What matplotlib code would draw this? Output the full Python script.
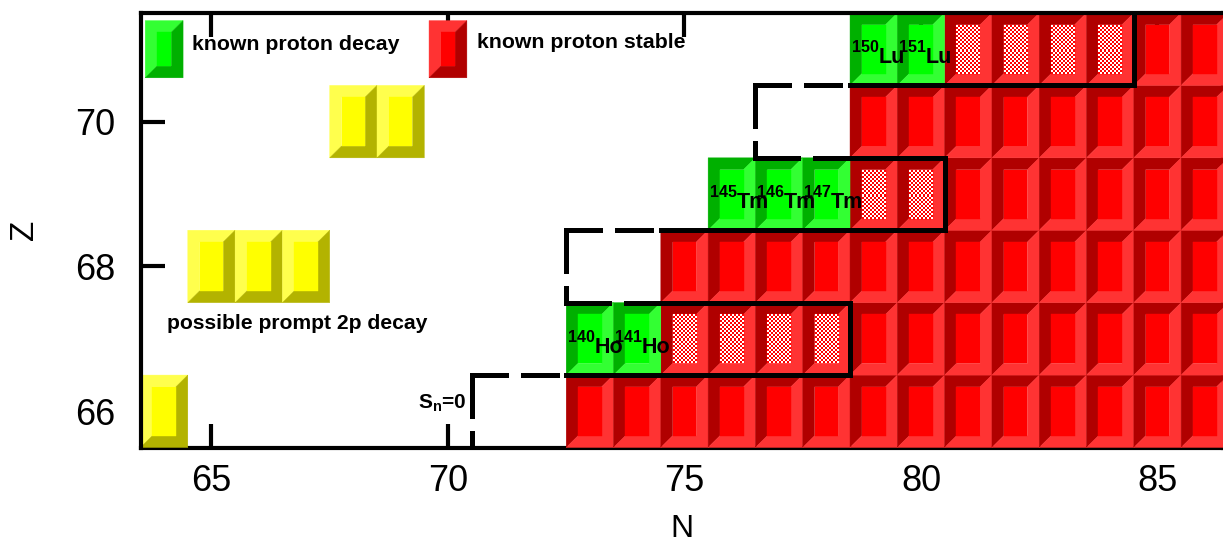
import numpy as np
import matplotlib
matplotlib.use('Agg')
import matplotlib.pyplot as plt
from matplotlib.patches import Polygon, Rectangle
from matplotlib.colors import ListedColormap

plt.rcParams['font.family'] = ['Liberation Sans', 'DejaVu Sans']
plt.rcParams['mathtext.fontset'] = 'custom'
plt.rcParams['mathtext.bf'] = 'Liberation Sans:bold'
plt.rcParams['mathtext.rm'] = 'Liberation Sans:bold'
plt.rcParams['mathtext.default'] = 'bf'
plt.rcParams['lines.scale_dashes'] = False

# ---------------- data ----------------
# known proton emitters (green)
decay_N = [73, 74, 76, 77, 78, 79, 80]
decay_Z = [67, 67, 69, 69, 69, 71, 71]
decay_A = [140, 141, 145, 146, 147, 150, 151]
decay_sym = ['Ho', 'Ho', 'Tm', 'Tm', 'Tm', 'Lu', 'Lu']

# known proton-stable nuclei (red): first N in each Z row, up to N_last
stable_Z = [66, 67, 68, 69, 70, 71]
stable_Nfirst = [73, 75, 75, 79, 79, 81]
stable_Nlast = 86

# stable cells with checkered face
hatched_Z = [67, 69, 71]
hatched_Nfirst = [75, 79, 81]
hatched_Nlast = [78, 80, 84]

# possible prompt 2p decay (yellow)
prompt2p_N = [64, 65, 66, 67, 68, 69]
prompt2p_Z = [66, 68, 68, 68, 70, 70]

# boundary lines (solid)
solid_N = [[72.5, 78.5, 78.5, 74.5], [74.5, 80.5, 80.5, 78.5], [78.5, 84.5, 84.5]]
solid_Z = [[66.5, 66.5, 67.5, 67.5], [68.5, 68.5, 69.5, 69.5], [70.5, 70.5, 71.5]]

# boundary lines (dashed), each segment start -> end
dash_N0 = [70.5, 70.5, 72.5, 72.5, 72.5, 76.5, 76.5, 76.5]
dash_Z0 = [66.5, 66.5, 68.5, 68.5, 67.5, 70.5, 70.5, 69.5]
dash_N1 = [70.5, 72.5, 72.5, 74.5, 74.5, 76.5, 78.5, 78.5]
dash_Z1 = [65.5, 66.5, 67.5, 68.5, 67.5, 69.5, 70.5, 69.5]

x_ticks = [65, 70, 75, 80, 85]
y_ticks = [66, 68, 70]

# ---------------- colours ----------------
RED = ('#ff0000', '#b00000', '#ff3333')
GREEN = ('#00ff00', '#00b000', '#33ff33')
YELLOW = ('#ffff00', '#b3b300', '#ffff4d')

BX, BY = 0.25, 0.162

fig = plt.figure(figsize=(12.23, 5.42), dpi=100)
ax = fig.add_axes([140.5 / 1223, 94.5 / 542, 1082.5 / 1223, 434.5 / 542])


def cell(x0, y0, w, h, cols, raised=False, hatch=False, z=2):
    face, dark, light = cols
    x1, y1 = x0 + w, y0 + h
    xi0, xi1, yi0, yi1 = x0 + BX, x1 - BX, y0 + BY, y1 - BY
    tl = [(x0, y0), (x0, y1), (x1, y1), (xi1, yi1), (xi0, yi1), (xi0, yi0)]
    br = [(x0, y0), (x1, y0), (x1, y1), (xi1, yi1), (xi1, yi0), (xi0, yi0)]
    c_tl, c_br = (light, dark) if raised else (dark, light)
    ax.add_patch(Polygon(tl, closed=True, facecolor=c_tl, edgecolor=c_tl, lw=0.3, zorder=z))
    ax.add_patch(Polygon(br, closed=True, facecolor=c_br, edgecolor=c_br, lw=0.3, zorder=z))
    ax.add_patch(Rectangle((xi0, yi0), xi1 - xi0, yi1 - yi0, facecolor=face,
                           edgecolor=face, lw=0.3, zorder=z + 0.1))
    if hatch:
        nx, ny = 12, 24
        chk = (np.add.outer(np.arange(ny), np.arange(nx)) % 2).astype(float)
        ax.imshow(chk, extent=(xi0, xi1, yi0, yi1), cmap=ListedColormap(['white', face]),
                  vmin=0, vmax=1, interpolation='nearest', aspect='auto', zorder=z + 0.2)


# red (stable) cells
hatched_set = set()
for z_, a, b in zip(hatched_Z, hatched_Nfirst, hatched_Nlast):
    for n in range(a, b + 1):
        hatched_set.add((n, z_))
for z_, nf in zip(stable_Z, stable_Nfirst):
    for n in range(nf, stable_Nlast + 1):
        cell(n - 0.5, z_ - 0.5, 1, 1, RED, hatch=(n, z_) in hatched_set)

# green (proton decay) cells
for n, z_, A, s in zip(decay_N, decay_Z, decay_A, decay_sym):
    cell(n - 0.5, z_ - 0.5, 1, 1, GREEN)
for n, z_, A, s in zip(decay_N, decay_Z, decay_A, decay_sym):
    ax.text(n + 0.1, z_ - 0.045, str(A), fontsize=11.5, fontweight='bold',
            ha='right', va='baseline', zorder=6)
    ax.text(n + 0.1, z_ - 0.19, s, fontsize=15.5, fontweight='bold',
            ha='left', va='baseline', zorder=6)

# yellow cells
for n, z_ in zip(prompt2p_N, prompt2p_Z):
    cell(n - 0.5, z_ - 0.5, 1, 1, YELLOW, raised=True)

# legend cells
LW_, LH_ = 0.80, 0.79
cell(64 - LW_ / 2, 71 - LH_ / 2, LW_, LH_, GREEN, raised=True, z=3)
cell(70 - LW_ / 2, 71 - LH_ / 2, LW_, LH_, RED, raised=True, z=3)
ax.text(64.59, 70.99, 'known proton decay', fontsize=15.3, fontweight='bold', ha='left',
        va='baseline', zorder=6)
ax.text(70.61, 71.01, 'known proton stable', fontsize=15.3, fontweight='bold', ha='left',
        va='baseline', zorder=6)
ax.text(64.06, 67.13, 'possible prompt 2p decay', fontsize=15.2, fontweight='bold',
        ha='left', va='baseline', zorder=6)
ax.text(69.37, 66.03, r'S$_{n}$=0', fontsize=15, fontweight='bold', ha='left',
        va='baseline', zorder=6)

# boundary lines
LWL = 3.6
for xs, ys in zip(solid_N, solid_Z):
    ax.plot(xs, ys, color='black', lw=LWL, solid_capstyle='projecting',
            solid_joinstyle='miter', zorder=5)
px = 0.72
for x0, y0, x1, y1 in zip(dash_N0, dash_Z0, dash_N1, dash_Z1):
    if x0 == x1:
        on = 41 * px
    elif y0 in (66.5, 68.5, 70.5):
        on = 34 * px
    else:
        on = 43 * px
    ax.plot([x0, x1], [y0, y1], color='black', lw=LWL, linestyle=(0, (on, 17 * px)),
            dash_capstyle='projecting', zorder=5)

ax.set_xlim(63.5, 86.385)
ax.set_ylim(65.5, 71.5)
ax.set_xticks(x_ticks)
ax.set_yticks(y_ticks)
ax.set_axisbelow(True)
ax.tick_params(direction='in', length=17, width=3, top=True, right=False,
               labelsize=26, color='black')
ax.tick_params(axis='x', pad=12)
ax.tick_params(axis='y', pad=18)
for side in ['top', 'left']:
    ax.spines[side].set_linewidth(3)
    ax.spines[side].set_zorder(5)
for side in ['bottom', 'right']:
    ax.spines[side].set_linewidth(3)
    ax.spines[side].set_zorder(1)

ax.set_xlabel('N', fontsize=23)
ax.set_ylabel('Z', fontsize=24)
ax.xaxis.set_label_coords(0.5, -0.187)
ax.xaxis.label.set_va('center')
ax.yaxis.set_label_coords(-0.107, 0.5)
ax.yaxis.label.set_va('center')

fig.savefig('out.png', dpi=100)
